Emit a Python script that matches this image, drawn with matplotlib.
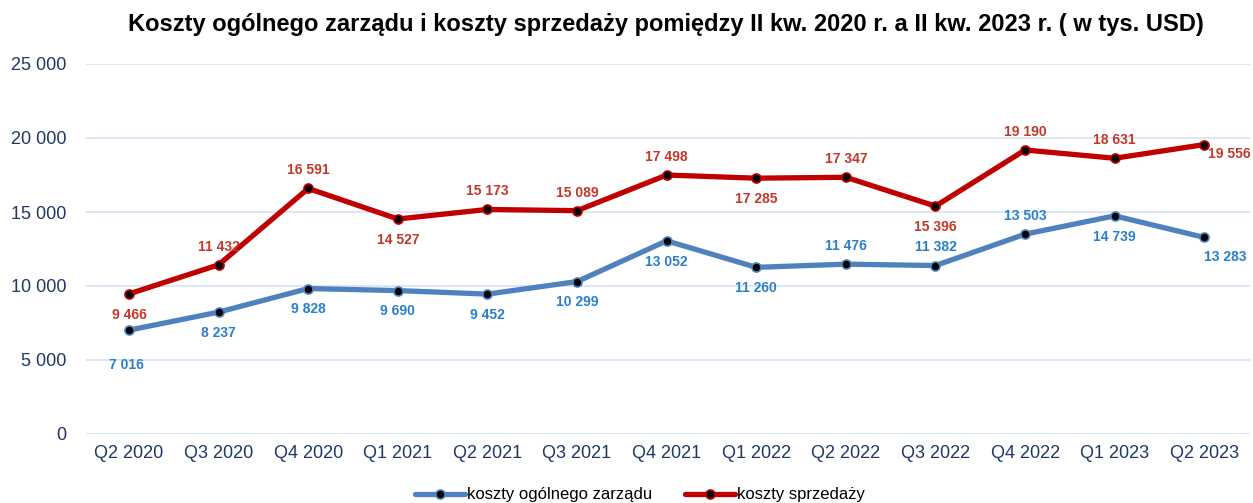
import matplotlib.pyplot as plt
from matplotlib.ticker import FuncFormatter

plt.rcParams['font.family'] = ['Liberation Sans', 'DejaVu Sans']

quarters = ["Q2 2020", "Q3 2020", "Q4 2020", "Q1 2021", "Q2 2021", "Q3 2021", "Q4 2021",
            "Q1 2022", "Q2 2022", "Q3 2022", "Q4 2022", "Q1 2023", "Q2 2023"]
zarzad = [7016, 8237, 9828, 9690, 9452, 10299, 13052, 11260, 11476, 11382, 13503, 14739, 13283]
sprzedaz = [9466, 11432, 16591, 14527, 15173, 15089, 17498, 17285, 17347, 15396, 19190, 18631, 19556]

# where each data label goes: 'a' above, 'b' below, 'bb' far below, 'r' right
pos_zarzad = ['bb', 'b', 'b', 'b', 'b', 'b', 'b', 'b', 'a', 'a', 'a', 'b', 'rb']
pos_sprzedaz = ['b', 'a', 'a', 'b', 'a', 'a', 'a', 'b', 'a', 'b', 'a', 'a', 'r']


def fmt(v):
    return f"{v:,.0f}".replace(",", " ")


fig = plt.figure(figsize=(12.53, 5.03), dpi=100)
ax = fig.add_axes([86 / 1253, 1 - 434 / 503, (1250 - 86) / 1253, 370 / 503])

x = list(range(len(quarters)))
blue = "#4F81BD"
red = "#C00000"
ax.plot(x, zarzad, color=blue, lw=3.8, marker="o", ms=6.5, mfc="black", mec=blue, mew=1.2,
        solid_capstyle="round", label="koszty ogólnego zarządu", zorder=3)
ax.plot(x, sprzedaz, color=red, lw=3.8, marker="o", ms=6.5, mfc="black", mec=red, mew=1.2,
        solid_capstyle="round", label="koszty sprzedaży", zorder=3)

offsets = {'a': (0, 8, 'center', 'bottom'), 'b': (0, -10, 'center', 'top'),
           'bb': (-2, -20, 'center', 'top'), 'r': (3, -7, 'left', 'center'),
           'rb': (15, -9, 'center', 'top')}


def label_series(vals, pos, color):
    for i, (v, p) in enumerate(zip(vals, pos)):
        dx, dy, ha, va = offsets[p]
        ax.annotate(fmt(v), (i, v), xytext=(dx, dy), textcoords="offset points",
                    ha=ha, va=va, fontsize=10, fontweight="bold", color=color)


label_series(zarzad, pos_zarzad, "#2A7FCB")
label_series(sprzedaz, pos_sprzedaz, "#C0392B")

ax.set_xlim(-0.48, 12.51)
ax.set_ylim(0, 25000)
ax.set_yticks(range(0, 25001, 5000))
ax.yaxis.set_major_formatter(FuncFormatter(lambda v, p: fmt(v)))
ax.set_xticks(x)
ax.set_xticklabels(quarters)
ax.tick_params(axis="both", length=0, labelsize=13, labelcolor="#1F3864")
ax.tick_params(axis="y", pad=14)
ax.tick_params(axis="x", pad=8)
ax.grid(axis="y", color="#D6E2F3", lw=1.2)
ax.set_axisbelow(True)
for s in ax.spines.values():
    s.set_visible(False)

fig.suptitle("Koszty ogólnego zarządu i koszty sprzedaży pomiędzy II kw. 2020 r. a II kw. 2023 r. ( w tys. USD)",
             x=666 / 1253, y=0.952, va="center", fontsize=17, fontweight="bold")

fig.legend(loc="center", bbox_to_anchor=(640 / 1253, 8 / 503), ncol=2, frameon=False, fontsize=12,
           handlelength=3.0, handletextpad=0.1, columnspacing=2.0)

fig.savefig("out.png", dpi=100)
